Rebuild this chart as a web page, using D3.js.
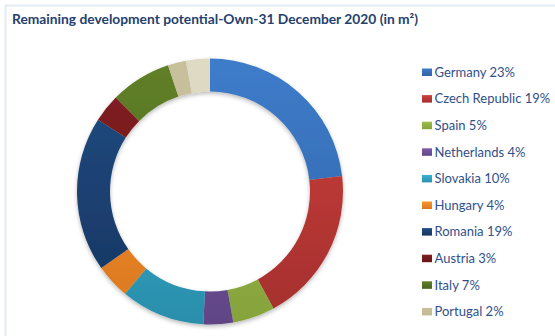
<!DOCTYPE html>
<html>
<head>
<meta charset="utf-8">
<script src="https://cdn.jsdelivr.net/npm/d3@7"></script>
<style>
  html, body { margin: 0; padding: 0; background: #fff; }
  svg { display: block; }
</style>
</head>
<body>
<svg id="chart" width="555" height="336"></svg>
<script>
// Remaining development potential by country (share of total m²)
const countries = ["Germany", "Czech Republic", "Spain", "Netherlands", "Slovakia",
                   "Hungary", "Romania", "Austria", "Italy", "Portugal", "Other"];
const shares = [23.1, 18.9, 5.1, 3.6, 10.2, 4.2, 18.8, 3.4, 7.4, 2.2, 2.9];
const topColors = ["#3D7CCA", "#CC403D", "#9CBE4C", "#7D5CA8", "#3AB4D3",
                   "#F8962F", "#214D83", "#822122", "#618029", "#C7C09B", "#DEDAC4"];
const bottomColors = ["#3363A8", "#A42F2D", "#86A33B", "#604586", "#2A8EAB",
                      "#DA7720", "#163460", "#661617", "#4A621D", "#C1BA95", "#D8D3BC"];

const svg = d3.select("#chart");
const W = 555, H = 336;

// light frame around the chart area
svg.append("rect")
  .attr("x", 5.5).attr("y", 5.5)
  .attr("width", W + 10).attr("height", H + 10)
  .attr("fill", "none")
  .attr("stroke", "#E4EBF5")
  .attr("stroke-width", 2);

// title
svg.append("text")
  .attr("x", 12).attr("y", 24)
  .attr("font-family", "Lato, 'Open Sans', sans-serif")
  .attr("font-weight", "bold")
  .attr("font-size", 13.5)
  .attr("fill", "#24416E")
  .attr("textLength", 406)
  .attr("lengthAdjust", "spacingAndGlyphs")
  .text("Remaining development potential-Own-31 December 2020 (in m²)");

const defs = svg.append("defs");

const cx = 210, cy = 191.5, rOuter = 133, rInner = 100;

// vertical gradient per slice, and a matching one for legend swatches
countries.forEach((c, i) => {
  const g = defs.append("linearGradient")
    .attr("id", "grad" + i)
    .attr("gradientUnits", "userSpaceOnUse")
    .attr("x1", 0).attr("y1", -rOuter)
    .attr("x2", 0).attr("y2", rOuter);
  g.append("stop").attr("offset", "0%").attr("stop-color", topColors[i]);
  g.append("stop").attr("offset", "100%").attr("stop-color", bottomColors[i]);

  const lg = defs.append("linearGradient")
    .attr("id", "lg" + i)
    .attr("x1", 0).attr("y1", 0).attr("x2", 0).attr("y2", 1);
  lg.append("stop").attr("offset", "0%").attr("stop-color", topColors[i]);
  lg.append("stop").attr("offset", "100%").attr("stop-color", bottomColors[i]);
});

// soft drop shadow under the ring
const f = defs.append("filter").attr("id", "shadow")
  .attr("x", "-20%").attr("y", "-20%").attr("width", "140%").attr("height", "140%");
f.append("feDropShadow")
  .attr("dx", 0).attr("dy", 2)
  .attr("stdDeviation", 2)
  .attr("flood-color", "#000")
  .attr("flood-opacity", 0.28);

const pie = d3.pie().sort(null).value(d => d)(shares);
const arc = d3.arc().innerRadius(rInner).outerRadius(rOuter);

const ring = svg.append("g")
  .attr("transform", `translate(${cx},${cy})`)
  .attr("filter", "url(#shadow)");

ring.selectAll("path")
  .data(pie)
  .join("path")
  .attr("d", arc)
  .attr("fill", (d, i) => `url(#grad${i})`);

// legend: only the entries that fit within the chart height are shown
const legendX = 422, legendY0 = 72, legendStep = 26.6;
const visibleCount = Math.floor((H - 8 - legendY0) / legendStep) + 1;
const legendItems = countries.slice(0, visibleCount).map((c, i) => ({ name: c, share: shares[i], i }));

const item = svg.append("g").selectAll("g")
  .data(legendItems)
  .join("g")
  .attr("transform", d => `translate(${legendX},${legendY0 + d.i * legendStep})`);

item.append("rect")
  .attr("x", 0).attr("y", -3.5)
  .attr("width", 10).attr("height", 7.5)
  .attr("fill", d => `url(#lg${d.i})`);

item.append("text")
  .attr("x", 12.5).attr("y", 4.8)
  .attr("font-family", "Lato, 'Open Sans', sans-serif")
  .attr("font-size", 13)
  .attr("fill", "#30508A")
  .text(d => `${d.name} ${Math.round(d.share)}%`);
</script>
</body>
</html>
